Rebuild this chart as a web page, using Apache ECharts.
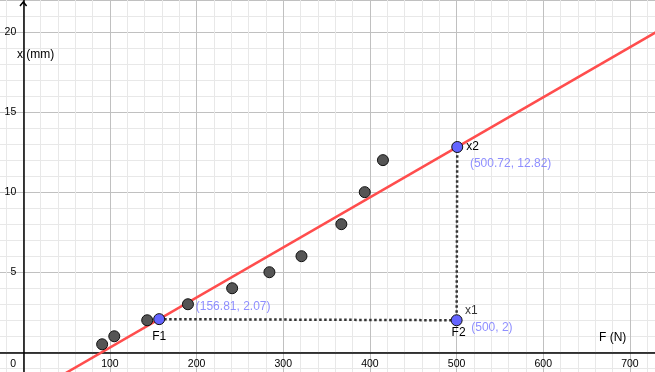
<!DOCTYPE html>
<html><head><meta charset="utf-8">
<script src="https://cdn.jsdelivr.net/npm/echarts@6/dist/echarts.min.js"></script>
<style>html,body{margin:0;padding:0;background:#fff}#c{width:655px;height:372px}</style>
</head><body><div id="c"></div>
<script>
// measured data (F in N, x in mm)
const forceN = [91, 105, 143, 190, 241, 284, 321, 367, 394, 415];
const extMm = [0.5, 1, 2, 3, 4, 5, 6, 8, 10, 12];
// red fit line endpoints
const fitLineX = [40, 740];
const fitLineY = [-1.58, 20.30];
// named points
const pointNames = ['F1', 'F2', 'x2'];
const pointX = [156.81, 500, 500.72];
const pointY = [2.07, 2, 12.82];
const coordLabels = ['(156.81, 2.07)', '(500, 2)', '(500.72, 12.82)'];
// dotted guide path F1 -> F2 -> x2
const guideX = [156.81, 500, 500.72];
const guideY = [2.07, 2, 12.82];
// tick labels
const xTickLabels = [0, 100, 200, 300, 400, 500, 600, 700];
const yTickLabels = [5, 10, 15, 20];
const xAxisName = 'F (N)';
const yAxisName = 'x (mm)';

const FONT = '"Liberation Sans", Arial, sans-serif';
const chart = echarts.init(document.getElementById('c'), null, {renderer: 'canvas'});

const nameOffsets = [[0, 18, 'center'], [2, 12.5, 'center'], [9, 0, 'left']];
const coordOffsets = [[36.6, -12.6], [14.6, 7.5], [12.7, 17]];

const option = {
  animation: false,
  backgroundColor: '#fff',
  grid: {left: -63.4, right: 0, top: 0, bottom: -60.35, containLabel: false, outerBoundsMode: 'none'},
  xAxis: {
    type: 'value', min: -100, max: 728.9, interval: 100, position: 'bottom', offset: -80.05,
    axisLine: {show: true, onZero: false, lineStyle: {color: '#000', width: 1.5}},
    axisTick: {show: false},
    minorTick: {show: false, splitNumber: 5},
    splitLine: {show: true, lineStyle: {color: '#c0c0c0', width: 1}},
    minorSplitLine: {show: true, lineStyle: {color: '#e8e8e8', width: 1}},
    axisLabel: {
      show: true, margin: 6, color: '#000', fontFamily: FONT, fontSize: 10.5, hideOverlap: false,
      showMinLabel: true, showMaxLabel: true,
      formatter: v => {
        if (!xTickLabels.includes(Number(v))) return '';
        if (Number(v) === 0) return '{z|0}';
        return String(v);
      },
      rich: {z: {padding: [0, 20, 0, 0], fontSize: 10.5, fontFamily: FONT, color: '#000'}}
    }
  },
  yAxis: {
    type: 'value', min: -5, max: 22, interval: 5, position: 'left', offset: -86.7,
    axisLine: {show: true, onZero: false, lineStyle: {color: '#000', width: 1.5}},
    axisTick: {show: false},
    minorTick: {show: false, splitNumber: 5},
    splitLine: {show: true, lineStyle: {color: '#c0c0c0', width: 1}},
    minorSplitLine: {show: true, lineStyle: {color: '#e8e8e8', width: 1}},
    axisLabel: {
      show: true, margin: 7, color: '#000', fontFamily: FONT, fontSize: 10.5, hideOverlap: false,
      showMinLabel: true, showMaxLabel: true,
      formatter: v => yTickLabels.includes(Number(v)) ? String(v) : ''
    }
  },
  series: [
    {
      type: 'line', data: fitLineX.map((x, i) => [x, fitLineY[i]]),
      symbol: 'none', lineStyle: {color: '#ff4d4d', width: 2.5}, z: 3, silent: true
    },
    {
      type: 'line', data: guideX.map((x, i) => [x, guideY[i]]),
      symbol: 'none', lineStyle: {color: '#333', width: 2.5, type: [2.5, 2.5]}, z: 2, silent: true
    },
    {
      type: 'scatter', data: forceN.map((x, i) => [x, extMm[i]]),
      symbolSize: 11, itemStyle: {color: '#555', borderColor: '#111', borderWidth: 1, opacity: 1}, z: 4
    },
    {
      type: 'scatter',
      data: pointX.map((x, i) => ({
        value: [x, pointY[i]], name: pointNames[i],
        label: {offset: [nameOffsets[i][0], nameOffsets[i][1]], align: nameOffsets[i][2]}
      })),
      symbolSize: 11, itemStyle: {color: '#6464ff', borderColor: '#111', borderWidth: 1, opacity: 1}, z: 5,
      label: {show: true, position: 'inside', verticalAlign: 'middle', formatter: p => p.name,
        color: '#000', fontFamily: FONT, fontSize: 12}
    },
    {
      type: 'scatter',
      data: pointX.map((x, i) => ({
        value: [x, pointY[i]], name: coordLabels[i],
        label: {offset: coordOffsets[i]}
      })),
      symbolSize: 2, itemStyle: {color: 'rgba(0,0,0,0)', borderWidth: 0}, z: 6, silent: true,
      label: {show: true, position: 'inside', align: 'left', verticalAlign: 'middle', formatter: p => p.name,
        color: '#7373ff', fontFamily: FONT, fontSize: 12}
    },
    {
      type: 'scatter',
      data: [{value: [pointX[1], pointY[1]], name: 'x1'}],
      symbolSize: 2, itemStyle: {color: 'rgba(0,0,0,0)', borderWidth: 0}, z: 6, silent: true,
      label: {show: true, position: 'inside', align: 'left', verticalAlign: 'middle', offset: [8.3, -10],
        formatter: p => p.name, color: '#000', fontFamily: FONT, fontSize: 12}
    }
  ],
  graphic: [
    {type: 'polyline', shape: {points: [[20, 6], [23.3, 2], [26.6, 6]]},
      style: {stroke: '#000', lineWidth: 1.5, fill: null}, z: 100},
    {type: 'text', x: 17, y: 55, style: {text: yAxisName, font: '12px ' + FONT, fill: '#000', verticalAlign: 'middle'}, z: 100},
    {type: 'text', x: 599, y: 338, style: {text: xAxisName, font: '12px ' + FONT, fill: '#000', verticalAlign: 'middle'}, z: 100}
  ]
};
chart.setOption(option);
</script>
</body></html>
